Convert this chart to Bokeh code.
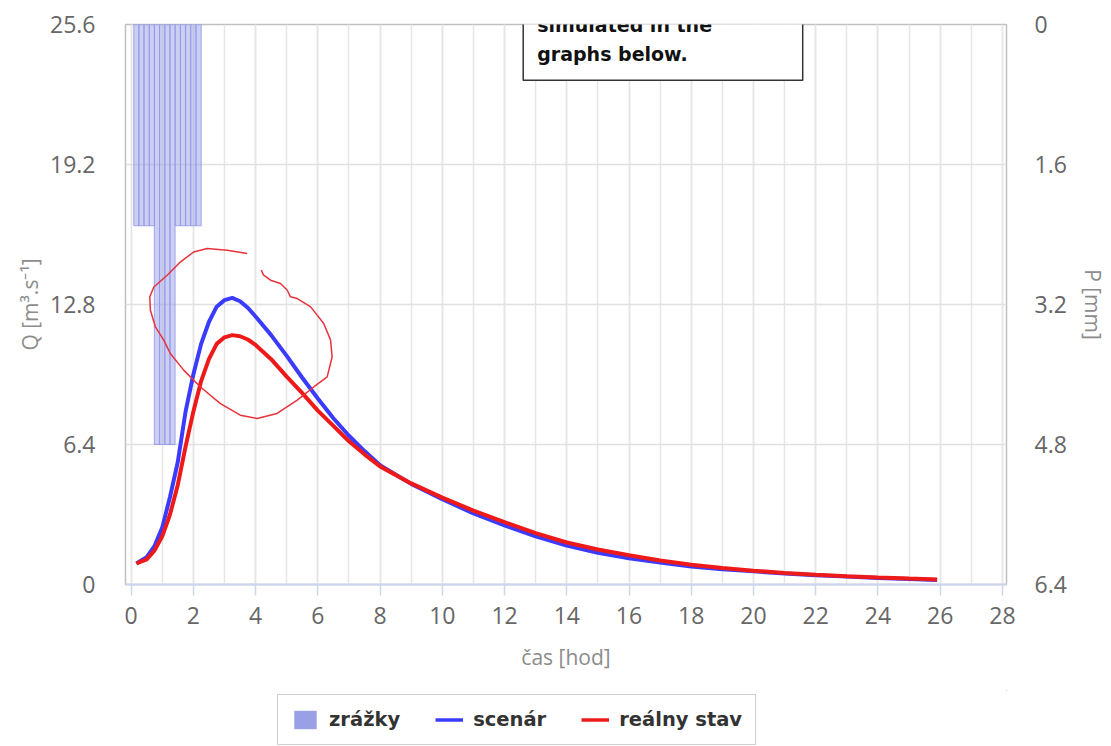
from bokeh.plotting import figure
from bokeh.layouts import column
from bokeh.models import (Range1d, LinearAxis, FixedTicker, SingleIntervalTicker,
                          CustomJSTickFormatter, Legend, LegendItem, Label)
from bokeh.embed import file_html
from bokeh.resources import INLINE

# ---------------- data ----------------
rain_t = [0.17, 0.33, 0.5, 0.67, 0.83, 1.0, 1.17, 1.33, 1.5, 1.67, 1.83, 2.0, 2.17]
rain_p = [2.3, 2.3, 2.3, 2.3, 4.8, 4.8, 4.8, 4.8, 2.3, 2.3, 2.3, 2.3, 2.3]

t = [0.17, 0.5, 0.75, 1.0, 1.25, 1.5, 1.75, 2.0, 2.25, 2.5, 2.75, 3.0, 3.25, 3.5,
     3.75, 4.0, 4.5, 5.0, 5.5, 6.0, 6.5, 7.0, 7.5, 8.0, 9, 10, 11, 12, 13, 14, 15,
     16, 17, 18, 19, 20, 21, 22, 23, 24, 25, 25.9]
q_scenar = [0.96, 1.25, 1.75, 2.6, 4.0, 5.6, 7.9, 9.6, 11.0, 12.0, 12.7, 13.0, 13.1,
            12.95, 12.65, 12.25, 11.4, 10.45, 9.45, 8.5, 7.6, 6.8, 6.1, 5.45, 4.6,
            3.9, 3.25, 2.7, 2.2, 1.78, 1.45, 1.2, 1.0, 0.82, 0.7, 0.6, 0.5, 0.42,
            0.36, 0.3, 0.25, 0.21]
q_real = [0.96, 1.15, 1.55, 2.2, 3.2, 4.55, 6.3, 7.9, 9.3, 10.3, 11.0, 11.3, 11.4,
          11.35, 11.2, 10.95, 10.3, 9.5, 8.75, 7.95, 7.25, 6.55, 5.95, 5.4, 4.62,
          3.97, 3.38, 2.85, 2.35, 1.92, 1.6, 1.34, 1.1, 0.9, 0.75, 0.63, 0.53, 0.45,
          0.38, 0.32, 0.27, 0.23]

q_ticks = [0, 6.4, 12.8, 19.2, 25.6]
p_ticks = [0, 1.6, 3.2, 4.8, 6.4]

# hand-drawn annotation (red scribble)
ann_x = [3.73, 3.09, 2.44, 2.01, 1.59, 1.16, 0.73, 0.60, 0.62, 0.78, 1.05, 1.26, 1.69,
         2.23, 2.87, 3.51, 4.05, 4.69, 5.34, 5.87, 6.30, 6.46, 6.41, 6.19, 5.77, 5.34,
         5.12, 5.02, 4.80, 4.48, 4.26, 4.18]
ann_y = [15.13, 15.28, 15.36, 15.2, 14.75, 14.14, 13.6, 13.15, 12.54, 11.78, 11.17,
         10.56, 9.8, 9.03, 8.27, 7.74, 7.59, 7.82, 8.43, 9.03, 9.49, 10.40, 11.17,
         11.93, 12.69, 13.07, 13.15, 13.45, 13.76, 13.91, 14.14, 14.37]

box_text = "and changes are also\nsimulated in the\ngraphs below."
legend_labels = ["zrážky", "scenár", "reálny stav"]

BAR_COLOR = "#9aa0e6"
BLUE = "#3b3bff"
RED = "#ee1a1a"

# ---------------- main figure ----------------
p = figure(width=1111, height=690, output_backend="svg", toolbar_location=None,
           x_range=Range1d(-0.18, 28.13), y_range=Range1d(0, 25.6),
           min_border_left=125, min_border_right=105, min_border_top=24,
           min_border_bottom=106)
p.extra_y_ranges = {"p": Range1d(start=6.4, end=0)}

p.outline_line_color = "#c0c0c0"
p.outline_line_width = 1.5
p.background_fill_color = "white"
p.border_fill_color = "white"

fmt = CustomJSTickFormatter(code="return String(Math.round(tick*10)/10)")

xa = p.xaxis[0]
xa.ticker = SingleIntervalTicker(interval=2, num_minor_ticks=2)
xa.axis_label = "čas [hod]"
xa.axis_line_color = "#ccd6eb"
xa.axis_line_width = 2
xa.major_tick_line_color = "#ccd6eb"
xa.major_tick_line_width = 1.5
xa.major_tick_out = 11
xa.major_tick_in = 0
xa.minor_tick_line_color = None
xa.minor_tick_out = 0
xa.major_label_standoff = 11
xa.axis_label_standoff = 16

ya = p.yaxis[0]
ya.ticker = FixedTicker(ticks=q_ticks)
ya.formatter = fmt
ya.axis_label = "Q [m³.s⁻¹]"
ya.axis_line_color = None
ya.major_tick_line_color = None
ya.minor_tick_line_color = None
ya.major_tick_out = 0
ya.major_tick_in = 0
ya.minor_tick_out = 0
ya.major_label_standoff = 30
ya.axis_label_standoff = 3

ra = LinearAxis(y_range_name="p", ticker=FixedTicker(ticks=p_ticks), formatter=fmt,
                axis_label="P [mm]")
ra.axis_line_color = None
ra.major_tick_line_color = None
ra.minor_tick_line_color = None
ra.major_tick_out = 0
ra.major_tick_in = 0
ra.minor_tick_out = 0
ra.major_label_standoff = 28
ra.axis_label_standoff = 9
p.add_layout(ra, "right")

for ax in (xa, ya, ra):
    ax.major_label_text_font = "Open Sans"
    ax.major_label_text_font_size = "23px"
    ax.major_label_text_color = "#666666"
    ax.axis_label_text_font = "Open Sans"
    ax.axis_label_text_font_size = "21px"
    ax.axis_label_text_font_style = "normal"
    ax.axis_label_text_color = "#8c8c8c"

p.xgrid.grid_line_color = "#e6e6e6"
p.xgrid.grid_line_width = 1.5
p.xgrid.minor_grid_line_color = "#e6e6e6"
p.xgrid.minor_grid_line_width = 1.5
p.ygrid.grid_line_color = "#e0e0e0"
p.ygrid.grid_line_width = 1.5

p.vbar(x=rain_t, width=1/6, top=0, bottom=rain_p, y_range_name="p",
       fill_color=BAR_COLOR, fill_alpha=0.5, line_color="#8f96ea",
       line_alpha=0.8, line_width=1)
p.line(t, q_scenar, line_color=BLUE, line_width=4)
p.line(t, q_real, line_color=RED, line_width=4)
p.line(ann_x, ann_y, line_color="#e8323c", line_width=1.5)

box = Label(x=12.6, y=23.05, x_units="data", y_units="data", anchor="bottom_left",
            text=box_text, text_font="DejaVu Sans", text_font_style="bold",
            text_font_size="19px", text_line_height=1.35, text_color="#111111",
            border_line_color="#333333", border_line_width=1.5,
            background_fill_color="white", padding=(14, 38, 12, 15))
p.add_layout(box)

# ---------------- legend strip (its proxy glyphs lie outside its ranges) ----------------
pl = figure(width=1111, height=56, output_backend="svg", toolbar_location=None,
            x_range=Range1d(-101, -100), y_range=Range1d(-101, -100),
            x_axis_location=None, y_axis_location=None,
            min_border_left=0, min_border_right=0, min_border_top=0,
            min_border_bottom=0)
pl.outline_line_color = None
pl.xgrid.visible = False
pl.ygrid.visible = False
g_bar = pl.vbar(x=rain_t, width=1/6, top=rain_p, fill_color=BAR_COLOR, line_color=None)
g_scen = pl.line(t, q_scenar, line_color=BLUE, line_width=3.5)
g_real = pl.line(t, q_real, line_color=RED, line_width=3.5)

legend = Legend(items=[LegendItem(label=legend_labels[0], renderers=[g_bar]),
                       LegendItem(label=legend_labels[1], renderers=[g_scen]),
                       LegendItem(label=legend_labels[2], renderers=[g_real])],
                orientation="horizontal", location=(152, 1))
legend.label_text_font = "DejaVu Sans"
legend.label_text_font_style = "bold"
legend.label_text_font_size = "19.5px"
legend.label_text_color = "#333333"
legend.glyph_width = 28
legend.glyph_height = 23
legend.label_standoff = 10
legend.spacing = 35
legend.padding = 13
legend.margin = 0
legend.border_line_color = "#a0a0a0"
legend.border_line_width = 1.5
legend.background_fill_color = "white"
legend.background_fill_alpha = 1
pl.add_layout(legend)

open("out.html", "w").write(file_html(column(p, pl, spacing=0), INLINE))
